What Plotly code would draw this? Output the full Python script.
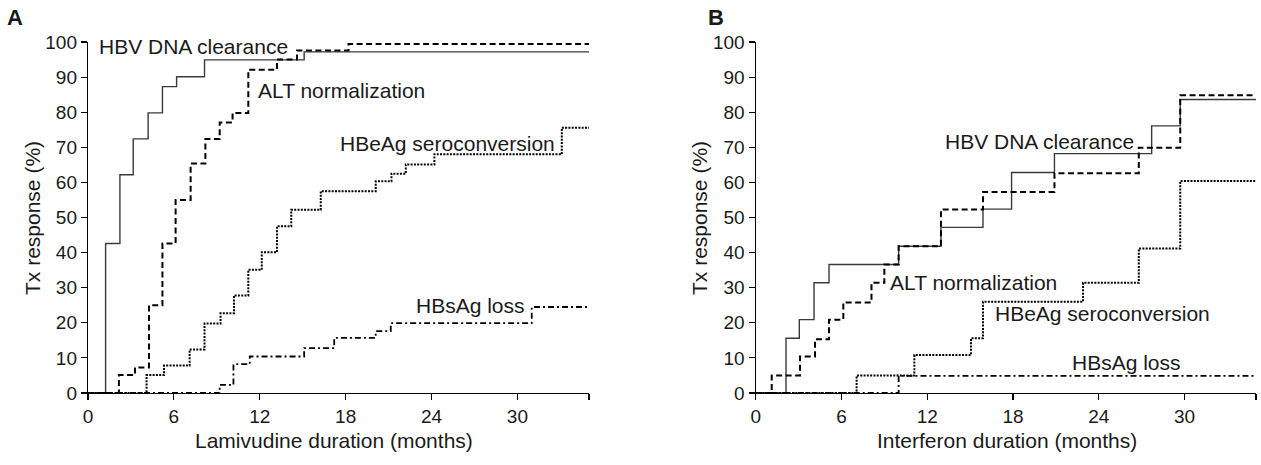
import plotly.graph_objects as go

# ---------------- Data ----------------
# Panel A: Lamivudine
lam_hbv_x = [0, 1.23, 2.23, 3.16, 4.2, 5.2, 6.19, 8.14, 15.1, 35]
lam_hbv_y = [0, 42.6, 62.2, 72.4, 79.8, 87.3, 90.1, 94.9, 97.2, 97.2]

lam_alt_x = [0, 2.16, 3.28, 4.26, 5.2, 6.12, 7.17, 8.2, 9.2, 10.1, 11.2, 13.2, 14.6, 18.2, 35]
lam_alt_y = [0, 5.1, 7.3, 25.0, 42.6, 55.0, 65.4, 72.4, 77.1, 79.8, 92.1, 95.0, 97.6, 99.4, 99.4]

lam_hbeag_x = [0, 4.09, 5.31, 7.1, 8.14, 9.26, 10.2, 11.2, 12.14, 13.2, 14.2, 16.26, 20.1, 21.2, 22.2, 24.2, 33.1, 35]
lam_hbeag_y = [0, 5.1, 7.8, 12.4, 19.8, 22.7, 27.8, 35.1, 40.1, 47.5, 52.2, 57.5, 60.3, 62.5, 65.1, 68.0, 75.6, 75.6]

lam_hbsag_x = [0, 9.2, 10.16, 11.3, 15.1, 17.2, 20.1, 21.15, 31.0, 35]
lam_hbsag_y = [0, 2.3, 8.2, 10.4, 12.8, 15.7, 17.6, 19.9, 24.5, 24.5]

# Panel B: Interferon
ifn_hbv_x = [0, 2.12, 3.05, 4.08, 5.13, 10.0, 12.96, 15.9, 17.9, 20.9, 27.7, 29.7, 35]
ifn_hbv_y = [0, 15.6, 20.9, 31.4, 36.6, 41.8, 47.2, 52.4, 62.8, 68.2, 76.1, 83.6, 83.6]

ifn_alt_x = [0, 1.12, 3.1, 4.15, 5.13, 6.13, 8.1, 9.0, 10.0, 12.96, 15.9, 20.9, 26.8, 29.7, 35]
ifn_alt_y = [0, 5.0, 10.4, 15.3, 20.9, 25.8, 31.4, 36.6, 41.8, 52.3, 57.3, 62.6, 69.9, 84.8, 84.8]

ifn_hbeag_x = [0, 7.06, 11.1, 15.06, 15.9, 22.9, 26.8, 29.7, 35]
ifn_hbeag_y = [0, 5.0, 10.8, 15.6, 26.0, 31.4, 41.2, 60.4, 60.4]

ifn_hbsag_x = [0, 10.0, 35]
ifn_hbsag_y = [0, 4.9, 4.9]

x_ticks = [0, 6, 12, 18, 24, 30, 35]
x_ticktext = ["0", "6", "12", "18", "24", "30", ""]
y_ticks = [0, 10, 20, 30, 40, 50, 60, 70, 80, 90, 100]

series_names = ["HBV DNA clearance", "ALT normalization", "HBeAg seroconversion", "HBsAg loss"]

# ---------------- Styles ----------------
FONT = "Liberation Sans, Arial, sans-serif"
TXT = "#1a1a1a"
styles = [
    dict(color="#3a3a3a", width=1.4, dash="solid"),
    dict(color="#000000", width=2.0, dash="6px,3.5px"),
    dict(color="#000000", width=2.0, dash="2px,1.3px"),
    dict(color="#000000", width=1.8, dash="6px,3px,2px,3px"),
]

fig = go.Figure()

panelA = [(lam_hbv_x, lam_hbv_y), (lam_alt_x, lam_alt_y), (lam_hbeag_x, lam_hbeag_y), (lam_hbsag_x, lam_hbsag_y)]
panelB = [(ifn_hbv_x, ifn_hbv_y), (ifn_alt_x, ifn_alt_y), (ifn_hbeag_x, ifn_hbeag_y), (ifn_hbsag_x, ifn_hbsag_y)]

for (xs, ys), name, st in zip(panelA, series_names, styles):
    fig.add_trace(go.Scatter(x=xs, y=ys, mode="lines", line=dict(shape="hv", **st),
                             name=name, xaxis="x", yaxis="y", showlegend=False,
                             hoverinfo="skip"))
for (xs, ys), name, st in zip(panelB, series_names, styles):
    fig.add_trace(go.Scatter(x=xs, y=ys, mode="lines", line=dict(shape="hv", **st),
                             name=name, xaxis="x2", yaxis="y2", showlegend=False,
                             hoverinfo="skip"))

W, H = 1261, 465
ydom = [1 - 393 / H, 1 - 42 / H]

axis_common = dict(showgrid=False, zeroline=False, showline=True, linecolor="#000",
                   linewidth=1.2, ticks="outside", ticklen=6, tickwidth=1.2,
                   tickcolor="#000", automargin=False,
                   tickfont=dict(family=FONT, size=19, color=TXT))

fig.update_layout(
    width=W, height=H, autosize=False,
    margin=dict(l=0, r=0, t=0, b=0, pad=0, autoexpand=False),
    paper_bgcolor="white", plot_bgcolor="white",
    xaxis=dict(domain=[88 / W, 589 / W], range=[0, 35], tickvals=x_ticks, ticktext=x_ticktext,
               anchor="y", **axis_common),
    yaxis=dict(domain=ydom, range=[0, 100], tickvals=y_ticks, anchor="x", **axis_common),
    xaxis2=dict(domain=[755.7 / W, 1256 / W], range=[0, 35], tickvals=x_ticks, ticktext=x_ticktext,
                anchor="y2", **axis_common),
    yaxis2=dict(domain=ydom, range=[0, 100], tickvals=y_ticks, anchor="x2", **axis_common),
)

ann_font = dict(family=FONT, size=21, color=TXT)

# Curve labels (data coordinates)
labelsA = [("HBV DNA clearance", 0.63, 98.7), ("ALT normalization", 11.77, 86.2),
           ("HBeAg seroconversion", 17.47, 71.0), ("HBsAg loss", 22.8, 24.9)]
labelsB = [("HBV DNA clearance", 13.1, 71.6), ("ALT normalization", 9.25, 31.6),
           ("HBeAg seroconversion", 16.6, 22.6), ("HBsAg loss", 22.0, 8.8)]
for t, x, y in labelsA:
    fig.add_annotation(text=t, x=x, y=y, xref="x", yref="y", xanchor="left", yanchor="middle",
                       showarrow=False, font=ann_font)
for t, x, y in labelsB:
    fig.add_annotation(text=t, x=x, y=y, xref="x2", yref="y2", xanchor="left", yanchor="middle",
                       showarrow=False, font=ann_font)

# Axis titles and panel letters (paper coordinates)
def P(px, py):
    return px / W, 1 - py / H

for text, (px, py), ang in [
    ("Lamivudine duration (months)", (334, 440), 0),
    ("Interferon duration (months)", (1006.5, 440), 0),
    ("Tx response (%)", (33, 218), -90),
    ("Tx response (%)", (700, 218), -90),
]:
    x, y = P(px, py)
    fig.add_annotation(text=text, x=x, y=y, xref="paper", yref="paper", xanchor="center",
                       yanchor="middle", showarrow=False, textangle=ang, font=ann_font)

for text, (px, py) in [("A", (15, 18)), ("B", (716, 18))]:
    x, y = P(px, py)
    fig.add_annotation(text="<b>%s</b>" % text, x=x, y=y, xref="paper", yref="paper",
                       xanchor="center", yanchor="middle", showarrow=False,
                       font=dict(family=FONT, size=22, color=TXT))

fig.write_html("out.html",
               config={"displayModeBar": False, "staticPlot": True},
               post_script="document.body.style.margin='0';document.body.style.padding='0';"
                           "document.body.style.overflow='hidden';")
